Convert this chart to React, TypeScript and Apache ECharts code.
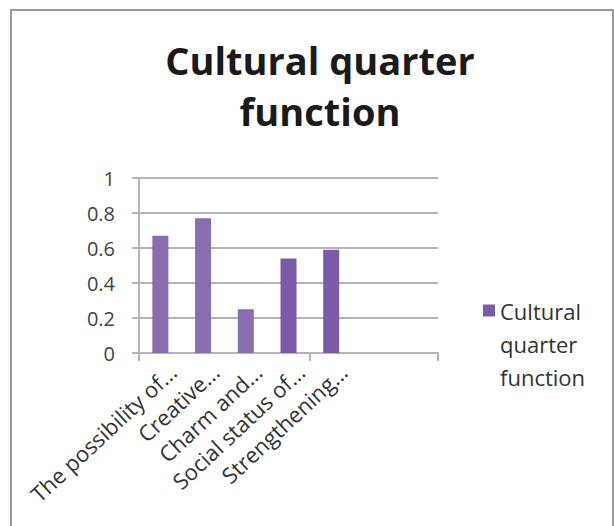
import React, { useEffect, useRef } from "react";
import * as echarts from "echarts";

const categories = [
  "The possibility of...",
  "Creative...",
  "Charm and...",
  "Social status of...",
  "Strengthening...",
  "",
  "",
];
const values: (number | null)[] = [0.67, 0.77, 0.25, 0.54, 0.59, null, null];
const seriesName = "Cultural quarter function";
const titleText = "Cultural quarter\nfunction";
const barColors = ["#8a6db1", "#8a6db1", "#8a6db1", "#7b5aa8", "#7b5aa8", "#8a6db1", "#8a6db1"];

export default function App() {
  const ref = useRef<HTMLDivElement>(null);
  useEffect(() => {
    if (!ref.current) return;
    const chart = echarts.init(ref.current, undefined, { renderer: "svg" });
    const gridBase = { left: 139, top: 178, width: 299, height: 175 };
    const font = "Open Sans";
    chart.setOption({
      animation: false,
      backgroundColor: "#ffffff",
      title: {
        text: titleText,
        left: 315,
        top: 29,
        textAlign: "center",
        textStyle: {
          fontFamily: font,
          fontWeight: "bold",
          fontSize: 38,
          lineHeight: 51,
          color: "#1a1a1a",
        },
      },
      legend: {
        orient: "vertical",
        left: 483,
        top: 228,
        padding: 0,
        itemWidth: 12,
        itemHeight: 12,
        icon: "rect",
        itemStyle: { color: "#7b5aa8" },
        formatter: (n: string) => "\n\n" + n.replace(/ /g, "\n"),
        textStyle: {
          fontFamily: font,
          fontSize: 22,
          lineHeight: 33,
          color: "#333333",
        },
        data: [seriesName],
      },
      grid: [
        { ...gridBase, containLabel: false },
        { left: gridBase.left + 12, top: gridBase.top, width: gridBase.width, height: gridBase.height, containLabel: false },
      ],
      xAxis: [
        {
          type: "category",
          gridIndex: 0,
          data: categories,
          boundaryGap: true,
          axisLine: { show: true, lineStyle: { color: "#b5b5b5", width: 2 } },
          axisTick: { show: true, length: 8, lineStyle: { color: "#b5b5b5", width: 2 } },
          axisLabel: { show: false },
        },
        {
          type: "category",
          gridIndex: 1,
          data: categories,
          boundaryGap: true,
          axisLine: { show: false },
          axisTick: { show: false },
          axisLabel: {
            show: true,
            rotate: 43,
            interval: 0,
            margin: 15,
            fontFamily: font,
            fontSize: 22,
            color: "#333333",
          },
        },
      ],
      yAxis: [
        {
          type: "value",
          gridIndex: 0,
          min: 0,
          max: 1,
          interval: 0.2,
          axisLine: { show: true, lineStyle: { color: "#b5b5b5", width: 2 } },
          axisTick: { show: true, length: 7, lineStyle: { color: "#b5b5b5", width: 2 } },
          splitLine: { show: true, lineStyle: { color: "#b5b5b5", width: 2 } },
          axisLabel: {
            margin: 24,
            fontFamily: font,
            fontSize: 20,
            color: "#444444",
          },
        },
        {
          type: "value",
          gridIndex: 1,
          min: 0,
          max: 1,
          show: false,
        },
      ],
      series: [
        {
          name: seriesName,
          type: "bar",
          xAxisIndex: 0,
          yAxisIndex: 0,
          barWidth: 16,
          data: values,
          itemStyle: {
            color: (p: any) => barColors[p.dataIndex % barColors.length],
          },
        },
      ],
      graphic: [
        {
          type: "rect",
          shape: { x: 11, y: 10, width: 602, height: 530 },
          style: { fill: "none", stroke: "#9a9a9a", lineWidth: 2 },
          silent: true,
          z: 100,
        },
      ],
    });
    return () => chart.dispose();
  }, []);
  return (
    <div
      ref={ref}
      style={{ position: "fixed", left: 0, top: 0, width: 614, height: 526 }}
    />
  );
}
